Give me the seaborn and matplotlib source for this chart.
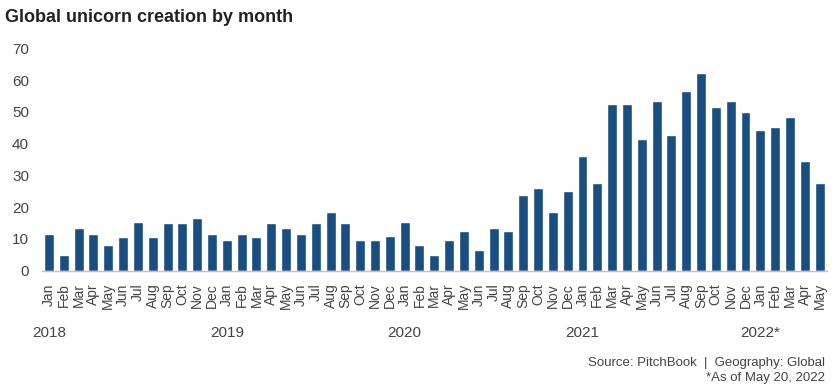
import matplotlib
matplotlib.use("Agg")
import matplotlib.pyplot as plt
import seaborn as sns
import pandas as pd

# monthly unicorn counts, Jan 2018 - May 2022
months = ["Jan", "Feb", "Mar", "Apr", "May", "Jun",
          "Jul", "Aug", "Sep", "Oct", "Nov", "Dec"]
v2018 = [11.5, 5, 13.5, 11.5, 8, 10.7, 15.2, 10.7, 15, 15, 16.7, 11.5]
v2019 = [9.8, 11.5, 10.7, 15, 13.6, 11.5, 15, 18.5, 15, 9.8, 9.8, 10.8]
v2020 = [15.2, 8, 5, 9.8, 12.6, 6.6, 13.6, 12.6, 23.7, 26.1, 18.5, 25]
v2021 = [36.2, 27.5, 52.6, 52.6, 41.4, 53.3, 42.8, 56.7, 62.2, 51.5, 53.3, 49.8]
v2022 = [44.3, 45.2, 48.4, 34.4, 27.5]
years = ["2018", "2019", "2020", "2021", "2022*"]

values = v2018 + v2019 + v2020 + v2021 + v2022
labels = months * 4 + months[:5]
df = pd.DataFrame({"idx": range(len(values)), "month": labels, "count": values})

sns.set_style("white")
plt.rcParams["font.family"] = ["Liberation Sans", "DejaVu Sans"]

fig = plt.figure(figsize=(8.4, 3.89), dpi=100)
ax = fig.add_axes([0.0495, 0.304, 0.935, 0.572])

sns.barplot(data=df, x="idx", y="count", color="#184f80", saturation=1,
            width=0.67, ax=ax)

ax.set_ylim(0, 70)
ax.set_xlim(-0.5, len(values) - 0.5)
ax.set_yticks(range(0, 71, 10))
ax.set_xticks(range(len(values)))
ax.set_xticklabels(labels, rotation=90, fontsize=10, color="#444444")
ax.tick_params(axis="y", labelsize=11, colors="#444444", length=0, pad=9)
ax.tick_params(axis="x", length=0, pad=9)
ax.set_xlabel("")
ax.set_ylabel("")
sns.despine(ax=ax, left=True)
ax.spines["bottom"].set_color("#c9bfb2")
ax.spines["bottom"].set_linewidth(1)

# year labels under the January of each year
for i, yr in enumerate(years):
    ax.text(i * 12, -0.28, yr, transform=ax.get_xaxis_transform(),
            ha="center", va="center", fontsize=11, color="#444444")

fig.text(0.006, 0.955, "Global unicorn creation by month", fontsize=13,
         fontweight="bold", color="#222222", ha="left", va="center")
fig.text(0.982, 0.067, "Source: PitchBook  |  Geography: Global", fontsize=9.5,
         color="#444444", ha="right", va="center")
fig.text(0.982, 0.028, "*As of May 20, 2022", fontsize=9.5,
         color="#444444", ha="right", va="center")

fig.savefig("out.png", dpi=100)
